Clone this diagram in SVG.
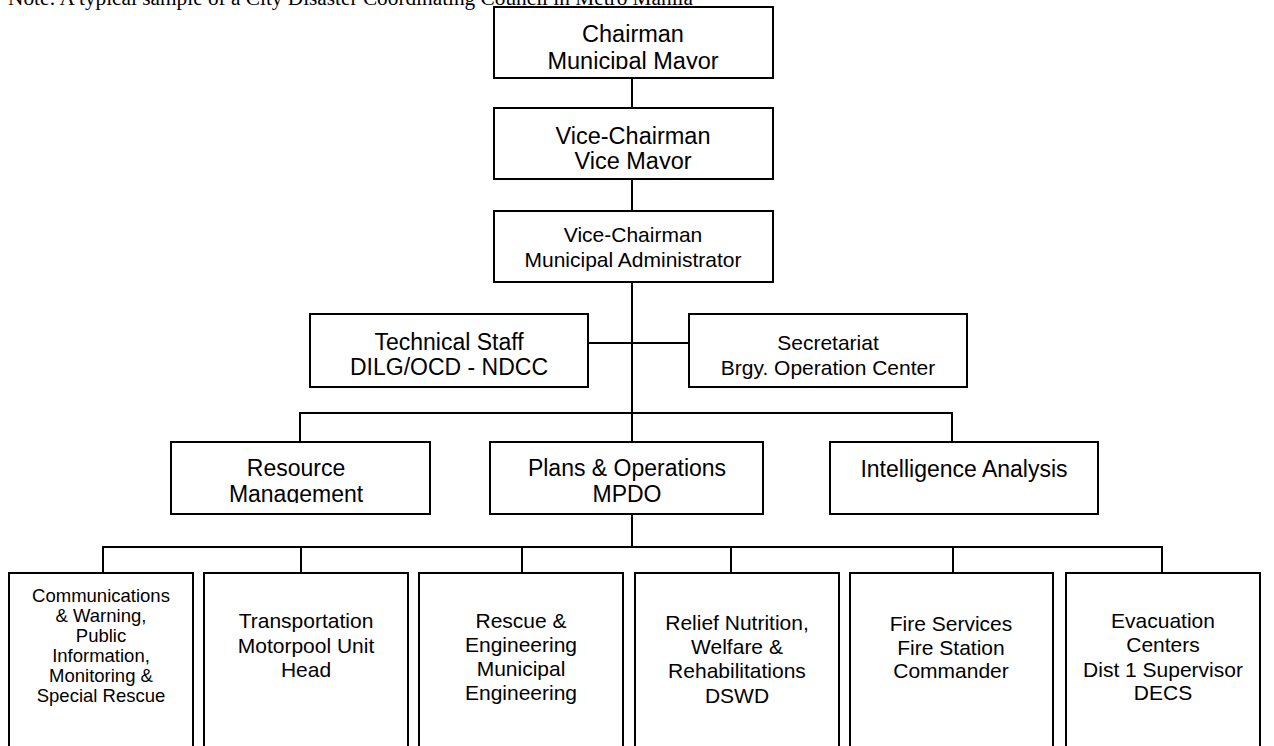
<svg xmlns="http://www.w3.org/2000/svg" width="1274" height="746" viewBox="0 0 1274 746">
  <style>
    .box { fill: #ffffff; stroke: #000000; stroke-width: 2; }
    .wire { fill: none; stroke: #000000; stroke-width: 2; }
    .t { font-family: "Liberation Sans", Arial, sans-serif; fill: #000000; text-anchor: middle; }
    .big { font-size: 23.5px; }
    .mid { font-size: 23px; }
    .std { font-size: 21px; }
    .small { font-size: 18.5px; }
    .note { font-family: "Liberation Serif", "Times New Roman", serif; font-size: 21.3px; fill: #000000; }
  </style>
  <defs>
    <!-- text frames that cut off descenders on the last line -->
    <clipPath id="clipChair"><rect x="494" y="7" width="279" height="62"/></clipPath>
    <clipPath id="clipVice"><rect x="494" y="108" width="279" height="61"/></clipPath>
    <clipPath id="clipRes"><rect x="171" y="442" width="259" height="61"/></clipPath>
  </defs>

  <rect width="1274" height="746" fill="#ffffff"/>

  <text class="note" x="8" y="5">Note: A typical sample of a City Disaster Coordinating Council in Metro Manila</text>

  <g id="connectors">
    <path class="wire" d="M632 78 V108 M632 179 V211 M632 282 V442 M632 514 V547"/>
    <path class="wire" d="M588 343 H689"/>
    <path class="wire" d="M300 442 V413 H952 V442"/>
    <path class="wire" d="M103 573 V547 H1162 V573 M301 547 V573 M522 547 V573 M731 547 V573 M953 547 V573"/>
  </g>

  <g id="chairman">
    <rect class="box" x="494" y="7" width="279" height="71"/>
    <g clip-path="url(#clipChair)">
      <text class="t big" x="633" y="42">Chairman</text>
      <text class="t big" x="633" y="68.5">Municipal Mayor</text>
    </g>
  </g>

  <g id="vice-chairman-mayor">
    <rect class="box" x="494" y="108" width="279" height="71"/>
    <g clip-path="url(#clipVice)">
      <text class="t big" x="633" y="144">Vice-Chairman</text>
      <text class="t big" x="633" y="168.5">Vice Mayor</text>
    </g>
  </g>

  <g id="vice-chairman-admin">
    <rect class="box" x="494" y="211" width="279" height="71"/>
    <text class="t std" x="633" y="242">Vice-Chairman</text>
    <text class="t std" x="633" y="267">Municipal Administrator</text>
  </g>

  <g id="technical-staff">
    <rect class="box" x="310" y="314" width="278" height="73"/>
    <text class="t mid" x="449" y="350">Technical Staff</text>
    <text class="t mid" x="449" y="375">DILG/OCD - NDCC</text>
  </g>

  <g id="secretariat">
    <rect class="box" x="689" y="314" width="278" height="73"/>
    <text class="t std" x="828" y="350">Secretariat</text>
    <text class="t std" x="828" y="375">Brgy. Operation Center</text>
  </g>

  <g id="resource-management">
    <rect class="box" x="171" y="442" width="259" height="72"/>
    <g clip-path="url(#clipRes)">
      <text class="t mid" x="296" y="476">Resource</text>
      <text class="t mid" x="296" y="502">Management</text>
    </g>
  </g>

  <g id="plans-operations">
    <rect class="box" x="490" y="442" width="273" height="72"/>
    <text class="t mid" x="627" y="476">Plans &amp; Operations</text>
    <text class="t mid" x="627" y="502">MPDO</text>
  </g>

  <g id="intelligence-analysis">
    <rect class="box" x="830" y="442" width="268" height="72"/>
    <text class="t mid" x="964" y="477">Intelligence Analysis</text>
  </g>

  <g id="communications">
    <rect class="box" x="9" y="573" width="184" height="200"/>
    <text class="t small" x="101" y="602">Communications</text>
    <text class="t small" x="101" y="622">&amp; Warning,</text>
    <text class="t small" x="101" y="642">Public</text>
    <text class="t small" x="101" y="662">Information,</text>
    <text class="t small" x="101" y="682">Monitoring &amp;</text>
    <text class="t small" x="101" y="702">Special Rescue</text>
  </g>

  <g id="transportation">
    <rect class="box" x="204" y="573" width="204" height="200"/>
    <text class="t std" x="306" y="628">Transportation</text>
    <text class="t std" x="306" y="653">Motorpool Unit</text>
    <text class="t std" x="306" y="677">Head</text>
  </g>

  <g id="rescue-engineering">
    <rect class="box" x="419" y="573" width="204" height="200"/>
    <text class="t std" x="521" y="628">Rescue &amp;</text>
    <text class="t std" x="521" y="652">Engineering</text>
    <text class="t std" x="521" y="676">Municipal</text>
    <text class="t std" x="521" y="700">Engineering</text>
  </g>

  <g id="relief-welfare">
    <rect class="box" x="635" y="573" width="204" height="200"/>
    <text class="t std" x="737" y="630">Relief Nutrition,</text>
    <text class="t std" x="737" y="654">Welfare &amp;</text>
    <text class="t std" x="737" y="678">Rehabilitations</text>
    <text class="t std" x="737" y="703">DSWD</text>
  </g>

  <g id="fire-services">
    <rect class="box" x="850" y="573" width="203" height="200"/>
    <text class="t std" x="951" y="631">Fire Services</text>
    <text class="t std" x="951" y="655">Fire Station</text>
    <text class="t std" x="951" y="678">Commander</text>
  </g>

  <g id="evacuation-centers">
    <rect class="box" x="1066" y="573" width="194" height="200"/>
    <text class="t std" x="1163" y="628">Evacuation</text>
    <text class="t std" x="1163" y="652">Centers</text>
    <text class="t std" x="1163" y="677">Dist 1 Supervisor</text>
    <text class="t std" x="1163" y="700">DECS</text>
  </g>
</svg>
